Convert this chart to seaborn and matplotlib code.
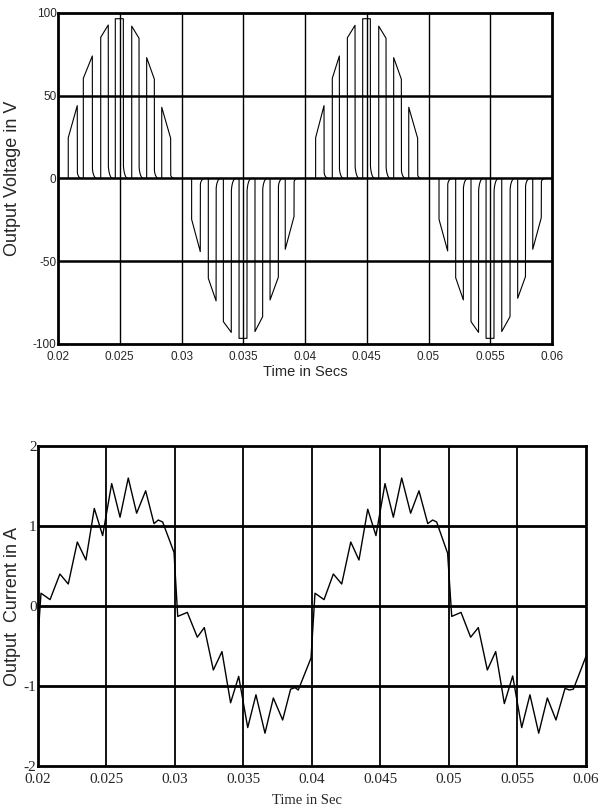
import matplotlib
matplotlib.use("Agg")
import matplotlib.pyplot as plt
import numpy as np
import seaborn as sns

sns.set_theme(style="white")
plt.rcParams['font.family'] = ['Liberation Sans', 'DejaVu Sans']

# --- voltage pulses (start/end time, level at start/end of each pulse) ---
pulse_start = [0.02083, 0.02205, 0.02346, 0.02464, 0.02597, 0.02718, 0.02840,
               0.03082, 0.03217, 0.03339, 0.03466, 0.03595, 0.03717, 0.03840,
               0.04086, 0.04221, 0.04343, 0.04467, 0.04597, 0.04718, 0.04840,
               0.05085, 0.05220, 0.05344, 0.05466, 0.05593, 0.05722, 0.05844]
pulse_end = [0.02156, 0.02278, 0.02407, 0.02529, 0.02656, 0.02780, 0.02912,
             0.03152, 0.03280, 0.03403, 0.03530, 0.03657, 0.03784, 0.03911,
             0.04154, 0.04278, 0.04405, 0.04529, 0.04656, 0.04780, 0.04912,
             0.05155, 0.05282, 0.05405, 0.05530, 0.05660, 0.05785, 0.05913]
pulse_v_start = [24.6, 60.5, 85.3, 96.5, 92.0, 73.0, 43.0,
                 -24.7, -60.3, -86.5, -96.6, -92.5, -73.4, -42.8,
                 24.6, 60.5, 85.0, 96.5, 92.0, 73.0, 43.0,
                 -24.7, -60.0, -86.5, -96.6, -92.5, -72.4, -42.8]
pulse_v_end = [44.0, 74.0, 92.7, 96.5, 84.7, 60.0, 24.3,
               -44.2, -74.0, -93.0, -96.6, -83.5, -59.7, -23.0,
               44.0, 74.0, 92.5, 96.5, 84.7, 60.0, 24.3,
               -43.8, -73.4, -93.0, -96.6, -83.5, -59.3, -23.7]

# --- load current (vertices of the traced waveform) ---
cur_t = [0.02000, 0.02022, 0.02088, 0.02160, 0.02221, 0.02287, 0.02350, 0.02411,
         0.02472, 0.02538, 0.02599, 0.02659, 0.02720, 0.02786, 0.02847, 0.02878,
         0.02910, 0.02993, 0.03020, 0.03090, 0.03163, 0.03214, 0.03280, 0.03343,
         0.03406, 0.03465, 0.03531, 0.03591, 0.03657, 0.03718, 0.03786, 0.03844,
         0.03876, 0.03900, 0.03993, 0.04022, 0.04088, 0.04156, 0.04217, 0.04283,
         0.04343, 0.04407, 0.04467, 0.04533, 0.04594, 0.04655, 0.04720, 0.04781,
         0.04845, 0.04881, 0.04910, 0.04990, 0.05020, 0.05088, 0.05158, 0.05214,
         0.05280, 0.05341, 0.05404, 0.05465, 0.05531, 0.05591, 0.05655, 0.05718,
         0.05781, 0.05847, 0.05878, 0.05908, 0.06000]
cur_a = [-0.40, 0.16, 0.08, 0.40, 0.275, 0.80, 0.575, 1.22,
         0.88, 1.53, 1.11, 1.60, 1.16, 1.44, 1.03, 1.075,
         1.05, 0.67, -0.13, -0.08, -0.39, -0.27, -0.80, -0.57,
         -1.21, -0.88, -1.52, -1.11, -1.59, -1.15, -1.425, -1.04,
         -1.02, -1.05, -0.65, 0.16, 0.08, 0.40, 0.275, 0.80,
         0.575, 1.21, 0.88, 1.53, 1.11, 1.60, 1.16, 1.44,
         1.03, 1.075, 1.05, 0.66, -0.13, -0.08, -0.39, -0.27,
         -0.80, -0.57, -1.22, -0.875, -1.52, -1.11, -1.59, -1.15,
         -1.425, -1.03, -1.05, -1.04, -0.63]

volt_ticks = [-100, -50, 0, 50, 100]
cur_ticks = [-2, -1, 0, 1, 2]
time_ticks = [0.02, 0.025, 0.03, 0.035, 0.04, 0.045, 0.05, 0.055, 0.06]
time_labels = ['0.02', '0.025', '0.03', '0.035', '0.04', '0.045', '0.05', '0.055', '0.06']


def pulse_train(starts, ends, v0s, v1s, t0=0.02, t1=0.06):
    """build the PWM trace: rise, sloped top, fall with a rounded tail"""
    tt, vv = [t0], [0.0]
    theta = np.linspace(0, np.pi / 2, 8)
    for ts, te, a, b in zip(starts, ends, v0s, v1s):
        tt += [ts, ts, te]
        vv += [0.0, a, b]
        h, w = 0.1 * b, 0.00035
        tt += list(te + w - w * np.cos(theta))
        vv += list(h - h * np.sin(theta))
    tt.append(t1)
    vv.append(0.0)
    return np.array(tt), np.array(vv)


fig = plt.figure(figsize=(6.01, 8.08), dpi=100)
ax1 = fig.add_axes([0.0965, 0.5743, 0.822, 0.4097])
ax2 = fig.add_axes([0.0632, 0.0520, 0.9118, 0.3960])

# --- top: output voltage ---
vt, vv = pulse_train(pulse_start, pulse_end, pulse_v_start, pulse_v_end)
sns.lineplot(x=vt, y=vv, sort=False, estimator=None, color='black', lw=0.8, ax=ax1)
ax1.set_xlim(0.02, 0.06)
ax1.set_ylim(-100, 100)
ax1.set_xticks(time_ticks)
ax1.set_xticklabels(time_labels)
ax1.set_yticks(volt_ticks)
ax1.set_yticklabels([str(v) for v in volt_ticks])
for x in time_ticks[1:-1]:
    ax1.axvline(x, color='black', lw=1.0, zorder=0)
for y in volt_ticks[1:-1]:
    ax1.axhline(y, color='black', lw=1.8, zorder=0)
ax1.tick_params(length=0, labelsize=8.5)
ax1.tick_params(axis='x', pad=5)
ax1.tick_params(axis='y', pad=1)
ax1.set_xlabel("Time in Secs", fontsize=10.5)
ax1.set_ylabel("Output Voltage in V", fontsize=13)
ax1.xaxis.set_label_coords(0.5, -0.063)
ax1.yaxis.set_label_coords(-0.075, 0.5)
for s in ax1.spines.values():
    s.set_color('black')
    s.set_linewidth(2.0)

# --- bottom: output current ---
sns.lineplot(x=cur_t, y=cur_a, sort=False, estimator=None, color='black', lw=1.0, ax=ax2)
ax2.set_xlim(0.02, 0.06)
ax2.set_ylim(-2, 2)
ax2.set_xticks(time_ticks)
ax2.set_xticklabels(time_labels)
ax2.set_yticks(cur_ticks)
ax2.set_yticklabels([str(v) for v in cur_ticks])
for x in time_ticks[1:-1]:
    ax2.axvline(x, color='black', lw=1.3, zorder=0)
for y in cur_ticks[1:-1]:
    ax2.axhline(y, color='black', lw=2.0, zorder=0)
ax2.tick_params(length=0, labelsize=11)
ax2.tick_params(axis='x', pad=5)
ax2.tick_params(axis='y', pad=1)
for lab in ax2.get_xticklabels() + ax2.get_yticklabels():
    lab.set_family(['Liberation Serif', 'DejaVu Serif'])
ax2.set_xlabel("Time in Sec", fontsize=10.5, family=['Liberation Serif', 'DejaVu Serif'])
ax2.set_ylabel("Output  Current in A", fontsize=13)
ax2.xaxis.set_label_coords(0.49, -0.0875)
ax2.yaxis.set_label_coords(-0.031, 0.5)
for s in ax2.spines.values():
    s.set_color('black')
    s.set_linewidth(2.0)

fig.savefig("out.png", dpi=100)
